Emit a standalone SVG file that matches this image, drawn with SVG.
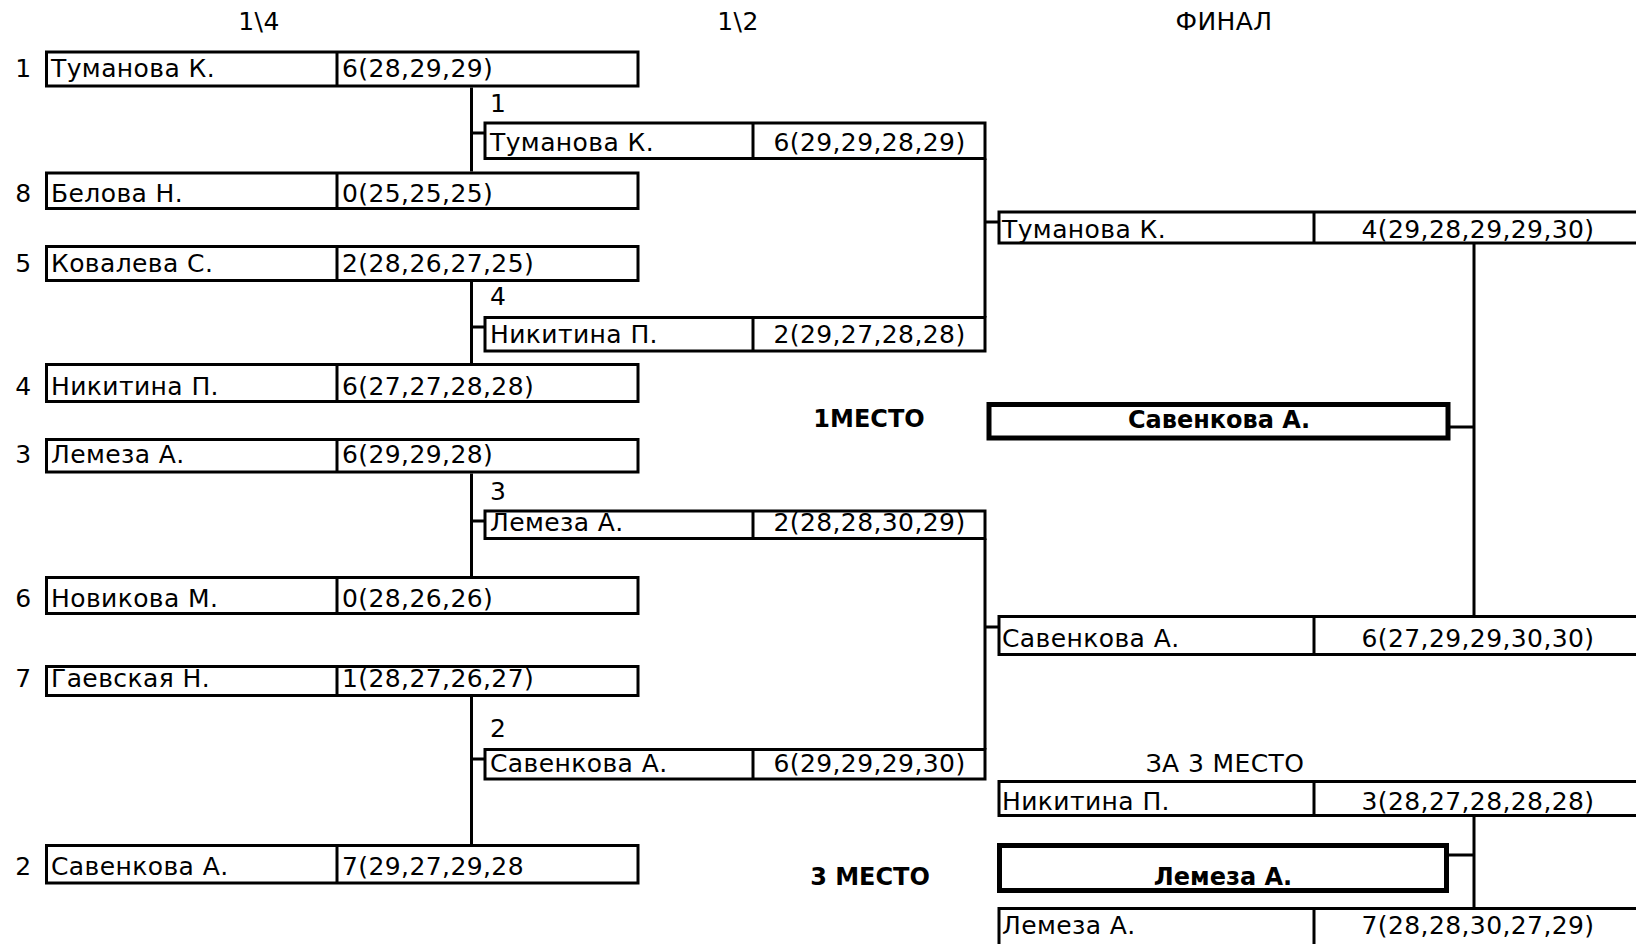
<svg xmlns="http://www.w3.org/2000/svg" width="1636" height="944" viewBox="0 0 1636 944">
<style>
  .box{fill:none;stroke:#000;stroke-width:3}
  .div{stroke:#000;stroke-width:3}
  .bbox{fill:none;stroke:#000;stroke-width:5}
  .conn{stroke:#000;stroke-width:3;fill:none}
  text{font-family:"DejaVu Sans","Liberation Sans",sans-serif;font-size:25px;fill:#000}
  .t{letter-spacing:0.4px}
  .c{text-anchor:middle}
  .b{font-weight:bold;font-size:24px}
</style>
<rect width="1636" height="944" fill="#fff"/>
<g id="headers">
  <text class="t c" x="259" y="30">1\4</text>
  <text class="t c" x="738" y="30">1\2</text>
  <text class="t c" x="1224" y="30">ФИНАЛ</text>
  <text class="t c" x="1225" y="772">ЗА 3 МЕСТО</text>
  <text class="b c" x="869" y="427">1МЕСТО</text>
  <text class="b c" x="870" y="885">3 МЕСТО</text>
</g>
<g id="connectors">
  <path class="conn" d="M471.5,87.5V171.5M471.5,133H485"/>
  <path class="conn" d="M471.5,282V363M471.5,327H485"/>
  <path class="conn" d="M471.5,473.5V576M471.5,521H485"/>
  <path class="conn" d="M471.5,697V844M471.5,759H485"/>
  <path class="conn" d="M985,158.5V317.5M985,222H999"/>
  <path class="conn" d="M985,538.5V749.5M985,627H999"/>
  <path class="conn" d="M1474,244V616.5M1450,427H1474"/>
  <path class="conn" d="M1474,817V908.5M1449,855H1474"/>
</g>
<g id="qf1">
  <rect class="box" x="46.5" y="52" width="591.5" height="34"/><line class="div" x1="337" y1="52" x2="337" y2="86"/>
  <text class="t c" x="23.5" y="77">1</text><text class="t" x="51" y="77">Туманова К.</text><text class="t" x="342" y="77">6(28,29,29)</text>
</g>
<g id="qf8">
  <rect class="box" x="46.5" y="173" width="591.5" height="35.5"/><line class="div" x1="337" y1="173" x2="337" y2="208.5"/>
  <text class="t c" x="23.5" y="201.7">8</text><text class="t" x="51" y="201.7">Белова Н.</text><text class="t" x="342" y="201.7">0(25,25,25)</text>
</g>
<g id="qf5">
  <rect class="box" x="46.5" y="246.5" width="591.5" height="34"/><line class="div" x1="337" y1="246.5" x2="337" y2="280.5"/>
  <text class="t c" x="23.5" y="271.7">5</text><text class="t" x="51" y="271.7">Ковалева С.</text><text class="t" x="342" y="271.7">2(28,26,27,25)</text>
</g>
<g id="qf4">
  <rect class="box" x="46.5" y="364.5" width="591.5" height="37"/><line class="div" x1="337" y1="364.5" x2="337" y2="401.5"/>
  <text class="t c" x="23.5" y="395">4</text><text class="t" x="51" y="395">Никитина П.</text><text class="t" x="342" y="395">6(27,27,28,28)</text>
</g>
<g id="qf3">
  <rect class="box" x="46.5" y="439.5" width="591.5" height="32.5"/><line class="div" x1="337" y1="439.5" x2="337" y2="472"/>
  <text class="t c" x="23.5" y="463">3</text><text class="t" x="51" y="463">Лемеза А.</text><text class="t" x="342" y="463">6(29,29,28)</text>
</g>
<g id="qf6">
  <rect class="box" x="46.5" y="577.5" width="591.5" height="36"/><line class="div" x1="337" y1="577.5" x2="337" y2="613.5"/>
  <text class="t c" x="23.5" y="606.7">6</text><text class="t" x="51" y="606.7">Новикова М.</text><text class="t" x="342" y="606.7">0(28,26,26)</text>
</g>
<g id="qf7">
  <rect class="box" x="46.5" y="666.5" width="591.5" height="29"/><line class="div" x1="337" y1="666.5" x2="337" y2="695.5"/>
  <text class="t c" x="23.5" y="686.7">7</text><text class="t" x="51" y="686.7">Гаевская Н.</text><text class="t" x="342" y="686.7">1(28,27,26,27)</text>
</g>
<g id="qf2">
  <rect class="box" x="46.5" y="845.5" width="591.5" height="37.5"/><line class="div" x1="337" y1="845.5" x2="337" y2="883"/>
  <text class="t c" x="23.5" y="875">2</text><text class="t" x="51" y="875">Савенкова А.</text><text class="t" x="342" y="875">7(29,27,29,28</text>
</g>
<g id="sf1">
  <text class="t" x="490" y="111.7">1</text>
  <rect class="box" x="485" y="123" width="500" height="35.5"/><line class="div" x1="753" y1="123" x2="753" y2="158.5"/>
  <text class="t" x="490" y="150.7">Туманова К.</text><text class="t c" x="869.5" y="150.7">6(29,29,28,29)</text>
</g>
<g id="sf4">
  <text class="t" x="490" y="305">4</text>
  <rect class="box" x="485" y="317.5" width="500" height="33.5"/><line class="div" x1="753" y1="317.5" x2="753" y2="351"/>
  <text class="t" x="490" y="343">Никитина П.</text><text class="t c" x="869.5" y="343">2(29,27,28,28)</text>
</g>
<g id="sf3">
  <text class="t" x="490" y="500">3</text>
  <rect class="box" x="485" y="511" width="500" height="27.5"/><line class="div" x1="753" y1="511" x2="753" y2="538.5"/>
  <text class="t" x="490" y="530.7">Лемеза А.</text><text class="t c" x="869.5" y="530.7">2(28,28,30,29)</text>
</g>
<g id="sf2">
  <text class="t" x="490" y="737">2</text>
  <rect class="box" x="485" y="749.5" width="500" height="29.5"/><line class="div" x1="753" y1="749.5" x2="753" y2="779"/>
  <text class="t" x="490" y="771.7">Савенкова А.</text><text class="t c" x="869.5" y="771.7">6(29,29,29,30)</text>
</g>
<g id="final1">
  <rect class="box" x="999" y="212" width="645" height="31"/><line class="div" x1="1314" y1="212" x2="1314" y2="243"/>
  <text class="t" x="1002" y="238.3">Туманова К.</text><text class="t c" x="1478" y="238.3">4(29,28,29,29,30)</text>
</g>
<g id="final2">
  <rect class="box" x="999" y="616.5" width="645" height="38"/><line class="div" x1="1314" y1="616.5" x2="1314" y2="654.5"/>
  <text class="t" x="1002" y="646.7">Савенкова А.</text><text class="t c" x="1478" y="646.7">6(27,29,29,30,30)</text>
</g>
<g id="winner">
  <rect class="bbox" x="989" y="404.5" width="459" height="33.5"/>
  <text class="b c" x="1219" y="428">Савенкова А.</text>
</g>
<g id="third1">
  <rect class="box" x="999" y="781.5" width="645" height="34"/><line class="div" x1="1314" y1="781.5" x2="1314" y2="815.5"/>
  <text class="t" x="1002" y="810">Никитина П.</text><text class="t c" x="1478" y="810">3(28,27,28,28,28)</text>
</g>
<g id="third2">
  <rect class="box" x="999" y="908.5" width="645" height="50"/><line class="div" x1="1314" y1="908.5" x2="1314" y2="958"/>
  <text class="t" x="1002" y="934">Лемеза А.</text><text class="t c" x="1478" y="934">7(28,28,30,27,29)</text>
</g>
<g id="third-winner">
  <rect class="bbox" x="999.5" y="845.5" width="447" height="45"/>
  <text class="b c" x="1223" y="885">Лемеза А.</text>
</g>
</svg>
